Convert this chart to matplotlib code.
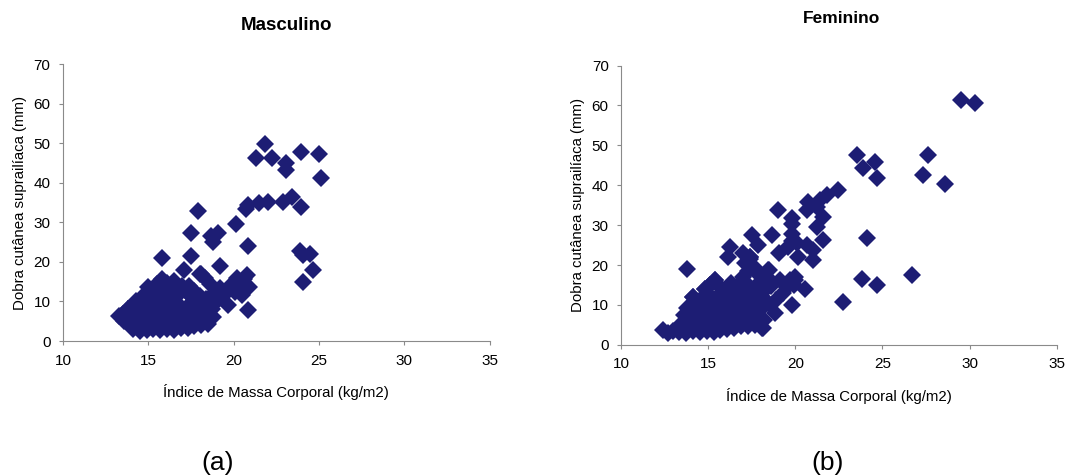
"""Skinfold vs BMI scatter, male and female panels."""

import matplotlib

matplotlib.use("Agg")
import matplotlib.pyplot as plt

plt.rcParams["font.family"] = ["Liberation Sans", "DejaVu Sans"]

NAVY = "#1d1d74"
SPINE = "#8a8a8a"

# ---- Masculino ----------------------------------------------------------
male_bmi = [
    # dense cluster
    14.1, 14.5, 14.9, 15.3, 15.7, 16.1, 16.5, 16.9, 17.3, 17.7, 18.1,
    14.4, 15.3, 16.2, 17.0, 13.8,
    13.6, 13.9, 14.3, 14.7, 15.1, 15.5, 15.9, 16.3, 16.7, 17.1, 17.5, 17.9, 18.3,
    13.3, 13.5, 13.8, 14.2, 14.6, 15.0, 15.4, 15.8, 16.2, 16.6, 17.0, 17.4, 17.8, 18.2,
    14.9, 15.9, 16.9, 13.8,
    14.0, 14.4, 14.8, 15.2, 15.6, 16.0, 16.4, 16.8, 17.2, 17.6, 18.0, 18.5,
    14.3, 14.6, 15.0, 15.4, 15.8, 16.2, 16.6, 17.6, 18.0, 18.4,
    14.8, 15.0, 15.3, 15.7, 16.1, 16.5, 16.9, 17.3, 17.7, 16.4, 17.5,
    15.5, 15.8, 16.1, 16.5, 17.0, 17.4,
    # tail
    18.0, 18.3, 18.6, 18.9, 19.2, 19.5, 19.8, 20.1, 20.4, 20.6, 20.8, 20.9,
    20.5, 20.2, 18.7, 19.0, 18.8,
    # scattered
    21.82, 21.33, 22.27, 23.09, 23.09, 23.96, 25.0, 25.14, 23.44, 22.89,
    23.96, 22.0, 21.48, 20.84, 20.7, 20.16, 17.91, 17.48, 18.65, 18.79,
    19.08, 17.52, 15.8, 20.84, 17.09, 19.18, 23.9, 24.06, 24.45, 24.65,
    24.06, 20.84, 19.67, 18.5, 18.07, 17.4,
]
male_skinfold = [
    3.0, 2.6, 2.8, 3.0, 2.7, 3.1, 2.9, 3.4, 3.2, 3.8, 4.0,
    4.0, 4.0, 4.0, 4.0, 8.0,
    5.0, 4.3, 4.8, 5.2, 4.6, 5.0, 4.7, 5.3, 4.8, 5.1, 4.6, 5.4, 5.8,
    6.3, 6.9, 6.0, 6.6, 7.1, 6.4, 6.9, 6.2, 7.0, 6.5, 7.2, 6.6, 7.0, 7.4,
    7.8, 7.8, 7.9, 8.0,
    8.2, 8.8, 8.3, 9.0, 8.5, 9.2, 8.6, 9.0, 8.4, 9.3, 8.8, 9.5,
    10.0, 10.2, 11.0, 10.5, 11.3, 10.4, 11.1, 10.8, 11.5, 10.6,
    12.0, 13.6, 12.2, 12.8, 13.0, 12.4, 12.9, 13.2, 12.6, 12.0, 11.5,
    14.5, 15.8, 14.6, 15.2, 14.0, 13.8,
    17.0, 16.0, 14.5, 12.5, 13.5, 11.8, 14.0, 12.5, 13.5, 15.8, 16.6, 13.6,
    11.6, 16.0, 8.0, 10.0, 6.0,
    49.8, 46.2, 46.2, 44.9, 43.2, 47.9, 47.3, 41.3, 36.3, 35.2,
    34.0, 35.2, 34.8, 34.4, 33.5, 29.7, 32.9, 27.4, 26.5, 25.1,
    27.4, 21.5, 20.9, 24.0, 17.9, 18.9, 22.8, 21.7, 21.9, 17.9,
    15.0, 7.9, 9.0, 4.4, 17.0, 12.0,
]

# ---- Feminino -----------------------------------------------------------
female_bmi = [
    # dense cluster
    12.4, 12.7, 13.0, 13.3, 13.7, 14.1, 14.5, 14.9, 15.3, 15.7, 16.1, 16.5, 16.9, 17.3, 17.7, 18.1,
    13.4, 13.8, 14.2, 14.6, 15.0, 15.4, 15.8, 16.2, 16.6, 17.0, 17.4, 17.8, 18.2,
    13.6, 14.0, 14.4, 14.8, 15.2, 15.6, 16.0, 16.4, 16.8, 17.2, 17.6, 18.0,
    13.8, 14.2, 14.6, 15.0, 15.4, 15.8, 16.2, 16.6, 17.0, 17.4, 17.8, 18.3,
    14.1, 14.5, 14.9, 15.2, 15.6, 16.0, 16.4, 16.8, 17.2, 17.6, 18.0,
    14.8, 15.1, 15.4, 15.8, 16.2, 16.6, 17.0, 17.3, 17.7, 18.2, 18.6,
    16.3, 17.0, 17.3, 17.1, 17.4, 17.0, 17.4, 17.6, 17.9, 18.2, 18.5, 18.7,
    19.1, 19.3, 18.9, 18.4, 19.5, 19.7, 20.0, 19.9, 20.0,
    # scattered
    29.48, 30.3, 23.51, 23.9, 24.56, 24.66, 27.62, 27.3, 28.58, 22.46,
    24.09, 23.8, 24.66, 22.75, 26.67, 20.55, 19.82, 18.83, 18.16, 13.77,
    19.02, 19.79, 19.79, 20.74, 20.65, 21.41, 21.79, 21.22, 21.6, 21.22,
    21.56, 21.03, 21.03, 20.65, 20.17, 19.8, 19.8, 19.6, 20.1, 18.64,
    17.49, 17.87, 16.25, 16.15, 15.39, 15.07, 14.82, 14.15, 19.08, 18.45,
    18.35, 17.4, 17.4,
]
female_skinfold = [
    3.6, 3.0, 3.5, 3.2, 3.0, 3.4, 3.1, 3.5, 3.2, 3.6, 4.0, 4.3, 4.6, 4.8, 5.0, 4.2,
    5.0, 5.8, 5.2, 6.0, 5.4, 6.2, 5.6, 6.4, 5.8, 6.5, 6.0, 6.8, 6.3,
    7.5, 8.2, 7.6, 8.4, 7.8, 8.6, 7.9, 8.7, 8.0, 8.8, 8.2, 9.0,
    9.2, 10.0, 9.4, 10.2, 9.6, 10.5, 9.8, 10.6, 9.9, 10.8, 10.2, 11.0,
    12.0, 11.2, 12.0, 11.8, 12.5, 12.2, 11.5, 12.4, 11.8, 12.8, 12.2,
    14.1, 15.0, 16.2, 14.0, 13.5, 14.5, 13.8, 15.0, 14.4, 13.5, 14.8,
    15.5, 17.0, 18.5, 20.5, 21.5, 22.9, 22.1, 19.5, 17.5, 16.2, 18.7, 15.5,
    16.2, 12.9, 11.2, 10.4, 14.5, 16.2, 16.2, 15.0, 17.0,
    61.3, 60.5, 47.5, 44.4, 45.9, 41.9, 47.5, 42.5, 40.3, 38.9,
    26.9, 16.4, 15.0, 10.8, 17.5, 14.1, 10.1, 7.9, 4.1, 19.1,
    33.8, 31.7, 30.4, 35.8, 33.8, 36.3, 37.5, 34.6, 32.1, 29.6,
    26.2, 23.7, 21.2, 25.0, 22.1, 27.9, 26.0, 24.5, 25.5, 27.5,
    27.5, 25.0, 24.6, 22.1, 16.2, 15.0, 14.1, 12.0, 22.9, 18.7,
    16.2, 22.1, 19.5,
]

x_ticks = [10, 15, 20, 25, 30, 35]
y_ticks = [0, 10, 20, 30, 40, 50, 60, 70]
x_label = "Índice de Massa Corporal (kg/m2)"
y_label = "Dobra cutânea suprailíaca (mm)"


def style_axis(ax):
    """Excel-like axis: only left/bottom spines, grey, small outward ticks."""
    for side in ["top", "right"]:
        ax.spines[side].set_visible(False)
    for side in ["left", "bottom"]:
        ax.spines[side].set_color(SPINE)
        ax.spines[side].set_linewidth(0.8)
    ax.set_xlim(10, 35)
    ax.set_ylim(0, 70)
    ax.set_xticks(x_ticks)
    ax.set_yticks(y_ticks)
    ax.tick_params(direction="out", length=3, width=0.8, color=SPINE,
                   labelsize=11, pad=6)
    ax.set_xlabel(x_label, fontsize=10.8, labelpad=12)
    ax.set_ylabel(y_label, fontsize=10.8, labelpad=5)


fig = plt.figure(figsize=(10.86, 4.75), dpi=100)
ax_m = fig.add_axes([0.058, 0.282, 0.393, 0.583])
ax_f = fig.add_axes([0.572, 0.274, 0.401, 0.588])

for ax, xs, ys in [(ax_m, male_bmi, male_skinfold), (ax_f, female_bmi, female_skinfold)]:
    ax.plot(xs, ys, linestyle="none", marker="D", markersize=9.3,
            color=NAVY, markeredgewidth=0, clip_on=False)
    style_axis(ax)

fig.text(0.264, 0.947, "Masculino", ha="center", va="center",
         fontsize=13.5, fontweight="bold")
fig.text(0.775, 0.962, "Feminino", ha="center", va="center",
         fontsize=12.5, fontweight="bold")
fig.text(0.200, 0.025, "(a)", ha="center", va="center", fontsize=19)
fig.text(0.762, 0.025, "(b)", ha="center", va="center", fontsize=19)

fig.savefig("out.png", dpi=100)
plt.close(fig)
